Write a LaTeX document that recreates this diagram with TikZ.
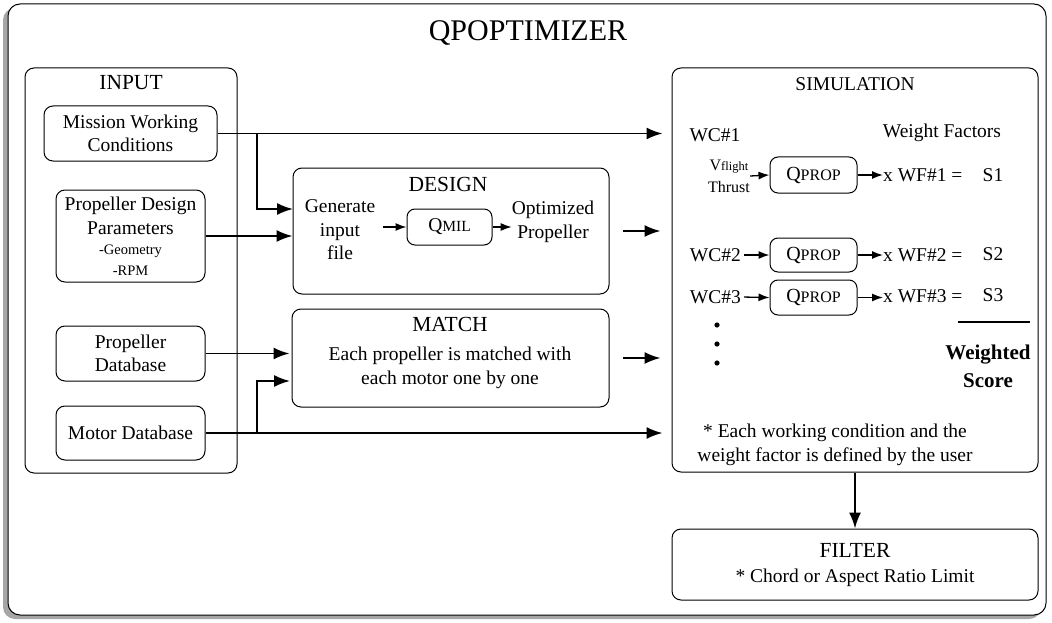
\documentclass[tikz,border=0pt]{standalone}
\usepackage{fontspec}
\setmainfont{Liberation Serif}
\usetikzlibrary{arrows.meta,shadows,calc}
\newcommand\bodyf{\fontsize{19.5}{23.5}\selectfont}
\newcommand\headf{\fontsize{21.5}{25}\selectfont}
\newcommand\QPROPtxt{{\fontsize{20}{24}\selectfont Q}{\fontsize{16}{19}\selectfont PROP}}
\newcommand\QMILtxt{Q{\fontsize{15.5}{18}\selectfont MIL}}
\begin{document}
\begin{tikzpicture}[x=1pt,y=-1pt,
  box/.style={draw, rounded corners=9pt, line width=1pt, inner sep=0pt, align=center},
  lbl/.style={inner sep=0pt, align=center, font=\bodyf},
  head/.style={inner sep=0pt, align=center, font=\headf},
  conn/.style={line width=1.8pt, -{Latex[length=16pt,width=12pt]}},
  sconn/.style={line width=1.3pt, -{Latex[length=11pt,width=8pt]}},
  plain/.style={line width=1.8pt}]
\useasboundingbox (0,0) rectangle (1052,623);
% outer frame
\node[box, rounded corners=12pt, minimum width=1038pt, minimum height=611pt, fill=white,
  drop shadow={shadow xshift=-5pt, shadow yshift=-4pt, opacity=0.7}] (frame) at (527,309.5) {};
\node[inner sep=0pt, font=\fontsize{30}{35}\selectfont] (title) at (528,33) {QPOPTIMIZER};

% INPUT
\node[box, minimum width=212pt, minimum height=405pt] (input) at (131,270.5) {};
\node[head] (inputlbl) at (131,83) {INPUT};
\node[box, font=\bodyf, minimum width=173pt, minimum height=55pt] (mwc) at (130.5,133.5) {Mission Working\\Conditions};
\node[box, font=\bodyf, minimum width=149pt, minimum height=92pt] (pdp) at (130.5,236)
  {Propeller Design\\Parameters\\[-3pt]{\fontsize{14.5}{17}\selectfont -Geometry}\\[-3pt]{\fontsize{14.5}{17}\selectfont -RPM}};
\node[box, font=\bodyf, minimum width=149pt, minimum height=55pt] (pdb) at (130.5,353.5) {Propeller\\Database};
\node[box, font=\bodyf, minimum width=149pt, minimum height=54pt] (mdb) at (130.5,433) {Motor Database};

% DESIGN
\node[box, minimum width=316pt, minimum height=126pt] (design) at (451,231) {};
\node[head] (designlbl) at (448,184) {DESIGN};
\node[lbl] (gen) at (340,230) {Generate\\input\\file};
\node[box, font=\bodyf, rounded corners=8pt, minimum width=85pt, minimum height=36pt] (qmil) at (449.5,227) {\QMILtxt};
\node[lbl] (opt) at (553,222) {Optimized\\Propeller};
\draw[sconn] (gen.east |- qmil.west) ++(8,0) coordinate (genout) -- (qmil.west);
\draw[sconn] (qmil.east) -- (opt.west |- qmil.east);

% MATCH
\node[box, minimum width=317pt, minimum height=98pt] (match) at (450.5,358) {};
\node[head] (matchlbl) at (450,324) {MATCH};
\node[lbl] (matchtxt) at (450,368) {Each propeller is matched with\\each motor one by one};

% SIMULATION
\node[box, minimum width=366pt, minimum height=404pt] (sim) at (855,270) {};
\node[inner sep=0pt, font=\fontsize{19.5}{23}\selectfont] (simlbl) at (855,84) {SIMULATION};
\node[lbl] (wc1) at (715,135) {WC\#1};
\node[lbl] (wfs) at (942,133) {Weight Factors};
\node[inner sep=0pt, align=center, font=\fontsize{16}{22}\selectfont] (vt) at (729,176)
  {V{\fontsize{12.5}{14}\selectfont flight}\\Thrust};
\node[box, font=\bodyf, rounded corners=8pt, minimum width=87pt, minimum height=36pt] (qp1) at (813.5,175) {\QPROPtxt};
\node[box, font=\bodyf, rounded corners=8pt, minimum width=87pt, minimum height=34pt] (qp2) at (813.5,255) {\QPROPtxt};
\node[box, font=\bodyf, rounded corners=8pt, minimum width=87pt, minimum height=35pt] (qp3) at (813.5,297.5) {\QPROPtxt};
\node[lbl, anchor=east] (wc2) at (741,255) {WC\#2};
\node[lbl, anchor=east] (wc3) at (741,297) {WC\#3};
\node[lbl, anchor=west] (wf1) at (883,175) {x WF\#1 =};
\node[lbl, anchor=west] (wf2) at (883,255) {x WF\#2 =};
\node[lbl, anchor=west] (wf3) at (883,296) {x WF\#3 =};
\node[lbl] (s1) at (993,175) {S1};
\node[lbl] (s2) at (993,254) {S2};
\node[lbl] (s3) at (993,295) {S3};
\draw[sconn] (vt.east) -- (qp1.west);
\draw[sconn, shorten <=3pt] (wc2.east) -- (qp2.west);
\draw[sconn, shorten <=3pt] (wc3.east) -- (qp3.west);
\draw[sconn] (qp1.east) -- (wf1.west);
\draw[sconn] (qp2.east) -- (wf2.west |- qp2.east);
\draw[sconn] (qp3.east) -- (wf3.west |- qp3.east);
\fill (717,325) circle (2.6pt) (717,344) circle (2.6pt) (717,363) circle (2.6pt);
\coordinate (sumA) at (958,322);
\coordinate (sumB) at (1030,322);
\draw[plain] (sumA) -- (sumB);
\node[inner sep=0pt, align=center, font=\fontsize{21}{28}\selectfont\bfseries] (ws) at (988,366) {Weighted\\Score};
\node[lbl] (note) at (835,445) {* Each working condition and the\\weight factor is defined by the user};

% FILTER
\node[box, minimum width=366pt, minimum height=71pt] (filter) at (855,564.5) {};
\node[head] (filterlbl) at (855,550) {FILTER};
\node[lbl] (filtertxt) at (855,578) {* Chord or Aspect Ratio Limit};

% connectors
\coordinate (br1) at (257,133.5);
\coordinate (dIn1) at (293,209);
\coordinate (br2) at (257,433);
\coordinate (mIn2) at (290,381);
\draw[conn, shorten >=9pt] (mwc.east) -- (mwc.east -| sim.west);
\draw[conn] (br1) |- (dIn1);
\draw[conn] (pdp.east) -- (pdp.east -| design.west);
\draw[conn] (pdb.east) -- ($(pdb.east -| match.west)+(-2,0)$);
\draw[conn, shorten >=9pt] (mdb.east) -- (mdb.east -| sim.west);
\draw[conn] (br2) |- (mIn2);
\draw[conn, shorten <=13pt, shorten >=11pt] (design.east) -- (design.east -| sim.west);
\draw[conn, shorten <=13pt, shorten >=11pt] (match.east) -- (match.east -| sim.west);
\draw[conn] (sim.south) -- (filter.north);
\end{tikzpicture}
\end{document}
